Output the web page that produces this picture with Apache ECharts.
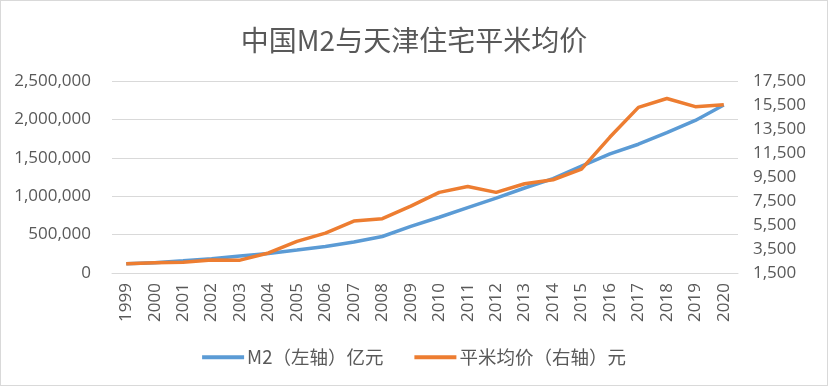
<!DOCTYPE html>
<html><head><meta charset="utf-8">
<script src="https://cdn.jsdelivr.net/npm/echarts@6/dist/echarts.min.js"></script>
<style>html,body{margin:0;padding:0;background:#fff}#c{width:828px;height:386px;box-sizing:border-box;border:1px solid #d9d9d9}</style>
</head><body><div id="c"></div>
<script>
const years = ['1999','2000','2001','2002','2003','2004','2005','2006','2007','2008','2009','2010','2011','2012','2013','2014','2015','2016','2017','2018','2019','2020'];
const m2 = [119898,134610,158302,185007,221223,254107,298756,345578,403442,475167,606225,725852,851591,974149,1106525,1228375,1392278,1550067,1676769,1826744,1986488,2186796];
const price = [2270,2350,2400,2590,2570,3170,4130,4820,5830,6030,7070,8220,8710,8220,8940,9270,10150,12830,15300,16040,15360,15520];
const leftTicks = {min:0, max:2500000, interval:500000};
const rightTicks = {min:1500, max:17500, interval:2000};
const names = ['M2（左轴）亿元','平米均价（右轴）元'];

const fmt = v => Math.round(v).toLocaleString('en-US');
const txt = '#595959';
const chart = echarts.init(document.getElementById('c'));
chart.setOption({
  animation:false,
  title:{text:'中国M2与天津住宅平米均价',left:'center',top:20,textStyle:{fontFamily:'Noto Sans CJK SC',fontSize:28,fontWeight:'normal',color:txt}},
  legend:{top:342,left:'center',itemGap:31,itemWidth:42,itemHeight:4,icon:'rect',
    textStyle:{fontFamily:'Noto Sans CJK SC',fontSize:18.5,color:txt,padding:[0,0,0,-2]},data:names},
  grid:{left:111,right:89,top:80,bottom:112},
  xAxis:{type:'category',data:years,boundaryGap:true,
    axisLine:{show:true,lineStyle:{color:'#d9d9d9'}},axisTick:{show:false},
    axisLabel:{rotate:90,margin:10,fontFamily:'Open Sans',fontSize:17,color:txt,interval:0}},
  yAxis:[
    {type:'value',min:leftTicks.min,max:leftTicks.max,interval:leftTicks.interval,
     axisLine:{show:false},axisTick:{show:false},
     splitLine:{lineStyle:{color:'#d9d9d9'}},
     axisLabel:{formatter:fmt,fontFamily:'Open Sans',fontSize:17,color:txt,margin:21}},
    {type:'value',min:rightTicks.min,max:rightTicks.max,interval:rightTicks.interval,
     axisLine:{show:false},axisTick:{show:false},splitLine:{show:false},
     axisLabel:{formatter:fmt,fontFamily:'Open Sans',fontSize:17,color:txt,margin:15}}
  ],
  series:[
    {name:names[0],type:'line',data:m2,yAxisIndex:0,showSymbol:false,symbol:'none',
     lineStyle:{color:'#5b9bd5',width:3.5},itemStyle:{color:'#5b9bd5'}},
    {name:names[1],type:'line',data:price,yAxisIndex:1,showSymbol:false,symbol:'none',
     lineStyle:{color:'#ed7d31',width:3.5},itemStyle:{color:'#ed7d31'}}
  ]
});
</script></body></html>
